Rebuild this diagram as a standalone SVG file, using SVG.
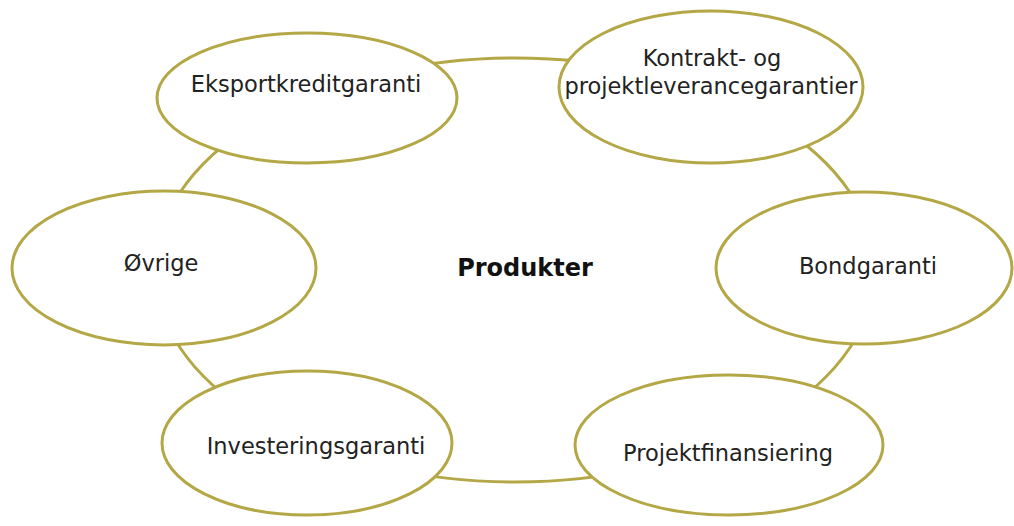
<svg xmlns="http://www.w3.org/2000/svg" width="1014" height="526" viewBox="0 0 1014 526">
<style>
.ring{fill:none;stroke:#b3a746;stroke-width:3}
.node{fill:#fff;stroke:#b3a746;stroke-width:3}
.lbl{font-family:"DejaVu Sans",Verdana,sans-serif;font-size:22.5px;fill:#222;text-anchor:middle}
.ctr{font-family:"DejaVu Sans",Verdana,sans-serif;font-size:24px;font-weight:bold;fill:#111;text-anchor:middle}
</style>
<rect width="1014" height="526" fill="#fff"/>
<g id="connectors">
<ellipse class="ring" cx="515" cy="270" rx="360" ry="212"/>
</g>
<g id="center"><text class="ctr" x="525" y="276">Produkter</text></g>
<g id="n1"><ellipse class="node" cx="307" cy="98" rx="150" ry="65"/><text class="lbl" x="306" y="92">Eksportkreditgaranti</text></g>
<g id="n2"><ellipse class="node" cx="711" cy="87" rx="152" ry="76"/><text class="lbl" x="712" y="66">Kontrakt- og</text><text class="lbl" x="711" y="94">projektleverancegarantier</text></g>
<g id="n3"><ellipse class="node" cx="864" cy="268" rx="148" ry="76"/><text class="lbl" x="868" y="274">Bondgaranti</text></g>
<g id="n4"><ellipse class="node" cx="729" cy="445" rx="154" ry="70"/><text class="lbl" x="728" y="461">Projektfinansiering</text></g>
<g id="n5"><ellipse class="node" cx="307" cy="443" rx="145" ry="72"/><text class="lbl" x="316" y="454">Investeringsgaranti</text></g>
<g id="n6"><ellipse class="node" cx="164" cy="268" rx="152" ry="77"/><text class="lbl" x="161" y="271">Øvrige</text></g>
</svg>
